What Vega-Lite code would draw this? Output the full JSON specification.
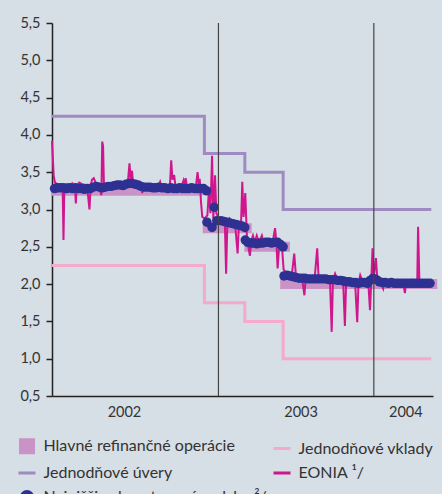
{
  "$schema": "https://vega.github.io/schema/vega-lite/v6.json",
  "width": 381,
  "height": 373,
  "autosize": {"type": "none"},
  "padding": {"left": 52, "top": 23, "right": 9, "bottom": 98},
  "background": "#d6dee6",
  "config": {
    "view": {"stroke": null},
    "font": "Lato",
    "axis": {"labelFont": "Lato", "labelFontSize": 14.5, "labelColor": "#333333", "domain": true, "domainColor": "#222222", "domainWidth": 1.5, "tickColor": "#222222", "tickWidth": 1.5, "grid": false},
    "legend": {"labelFont": "Lato", "labelFontSize": 16, "labelColor": "#333333", "labelLimit": 0, "columnPadding": 0, "rowPadding": 4, "padding": 0, "labelOffset": 6.5}
  },
  "datasets": {
    "refi": [
      {"d": "2001-12-05", "e": "2002-11-25", "v": 3.25},
      {"d": "2002-11-25", "e": "2003-03-20", "v": 2.75},
      {"d": "2003-03-03", "e": "2003-06-18", "v": 2.5},
      {"d": "2003-05-26", "e": "2004-05-29", "v": 2.0}
    ],
    "deposit": [
      {"d": "2001-12-06", "v": 2.25},
      {"d": "2002-11-29", "v": 1.75},
      {"d": "2003-03-04", "v": 1.5},
      {"d": "2003-06-02", "v": 1.0},
      {"d": "2004-05-15", "v": 1.0}
    ],
    "lending": [
      {"d": "2001-12-06", "v": 4.25},
      {"d": "2002-11-29", "v": 3.75},
      {"d": "2003-03-04", "v": 3.5},
      {"d": "2003-06-02", "v": 3.0},
      {"d": "2004-05-15", "v": 3.0}
    ],
    "eonia": [
      {"d": "2001-12-06", "v": 3.92}, {"d": "2001-12-10", "v": 3.45}, {"d": "2001-12-13", "v": 3.36},
      {"d": "2001-12-18", "v": 3.34}, {"d": "2001-12-24", "v": 3.31}, {"d": "2001-12-31", "v": 3.30},
      {"d": "2002-01-02", "v": 2.59}, {"d": "2002-01-04", "v": 3.30}, {"d": "2002-01-09", "v": 3.34},
      {"d": "2002-01-16", "v": 3.33}, {"d": "2002-01-23", "v": 3.35}, {"d": "2002-01-29", "v": 3.30},
      {"d": "2002-01-31", "v": 3.08}, {"d": "2002-02-02", "v": 3.31}, {"d": "2002-02-08", "v": 3.36},
      {"d": "2002-02-15", "v": 3.34}, {"d": "2002-02-22", "v": 3.33}, {"d": "2002-02-27", "v": 3.28},
      {"d": "2002-03-04", "v": 3.00}, {"d": "2002-03-07", "v": 3.32}, {"d": "2002-03-10", "v": 3.40},
      {"d": "2002-03-14", "v": 3.42}, {"d": "2002-03-20", "v": 3.34}, {"d": "2002-03-27", "v": 3.30},
      {"d": "2002-04-01", "v": 3.19}, {"d": "2002-04-03", "v": 3.91}, {"d": "2002-04-05", "v": 3.85},
      {"d": "2002-04-07", "v": 3.33}, {"d": "2002-04-14", "v": 3.31}, {"d": "2002-04-21", "v": 3.33},
      {"d": "2002-04-28", "v": 3.32}, {"d": "2002-05-05", "v": 3.34}, {"d": "2002-05-12", "v": 3.33},
      {"d": "2002-05-19", "v": 3.34}, {"d": "2002-05-26", "v": 3.33}, {"d": "2002-06-02", "v": 3.35},
      {"d": "2002-06-06", "v": 3.62}, {"d": "2002-06-09", "v": 3.38}, {"d": "2002-06-12", "v": 3.52},
      {"d": "2002-06-14", "v": 3.37}, {"d": "2002-06-21", "v": 3.35}, {"d": "2002-06-28", "v": 3.34},
      {"d": "2002-07-03", "v": 3.33}, {"d": "2002-07-06", "v": 3.22}, {"d": "2002-07-09", "v": 3.32},
      {"d": "2002-07-16", "v": 3.31}, {"d": "2002-07-23", "v": 3.32}, {"d": "2002-07-30", "v": 3.31},
      {"d": "2002-08-06", "v": 3.32}, {"d": "2002-08-13", "v": 3.31}, {"d": "2002-08-17", "v": 3.37},
      {"d": "2002-08-20", "v": 3.31}, {"d": "2002-08-27", "v": 3.30}, {"d": "2002-09-03", "v": 3.32},
      {"d": "2002-09-09", "v": 3.31}, {"d": "2002-09-12", "v": 3.66}, {"d": "2002-09-15", "v": 3.40},
      {"d": "2002-09-19", "v": 3.46}, {"d": "2002-09-22", "v": 3.31}, {"d": "2002-09-29", "v": 3.30},
      {"d": "2002-10-06", "v": 3.31}, {"d": "2002-10-11", "v": 3.39}, {"d": "2002-10-14", "v": 3.31},
      {"d": "2002-10-16", "v": 3.42}, {"d": "2002-10-19", "v": 3.30}, {"d": "2002-10-26", "v": 3.31},
      {"d": "2002-11-02", "v": 3.30}, {"d": "2002-11-09", "v": 3.31}, {"d": "2002-11-13", "v": 3.50},
      {"d": "2002-11-16", "v": 3.32}, {"d": "2002-11-18", "v": 3.41}, {"d": "2002-11-21", "v": 3.10},
      {"d": "2002-11-24", "v": 2.90}, {"d": "2002-11-30", "v": 2.88}, {"d": "2002-12-06", "v": 2.92},
      {"d": "2002-12-10", "v": 3.30}, {"d": "2002-12-13", "v": 2.95}, {"d": "2002-12-17", "v": 3.72},
      {"d": "2002-12-20", "v": 2.88}, {"d": "2002-12-24", "v": 3.46}, {"d": "2002-12-27", "v": 2.95},
      {"d": "2003-01-02", "v": 2.88}, {"d": "2003-01-09", "v": 2.85}, {"d": "2003-01-16", "v": 2.83},
      {"d": "2003-01-19", "v": 2.14}, {"d": "2003-01-22", "v": 2.84}, {"d": "2003-01-27", "v": 2.88},
      {"d": "2003-02-02", "v": 2.82}, {"d": "2003-02-09", "v": 2.81}, {"d": "2003-02-15", "v": 2.41},
      {"d": "2003-02-18", "v": 2.80}, {"d": "2003-02-23", "v": 2.80}, {"d": "2003-02-26", "v": 3.37},
      {"d": "2003-03-01", "v": 2.90}, {"d": "2003-03-05", "v": 3.22}, {"d": "2003-03-09", "v": 2.60},
      {"d": "2003-03-16", "v": 2.38}, {"d": "2003-03-19", "v": 2.58}, {"d": "2003-03-23", "v": 2.65},
      {"d": "2003-03-27", "v": 2.56}, {"d": "2003-04-01", "v": 2.65}, {"d": "2003-04-06", "v": 2.56},
      {"d": "2003-04-13", "v": 2.65}, {"d": "2003-04-17", "v": 2.56}, {"d": "2003-04-24", "v": 2.55},
      {"d": "2003-05-01", "v": 2.56}, {"d": "2003-05-08", "v": 2.55}, {"d": "2003-05-14", "v": 2.75},
      {"d": "2003-05-17", "v": 2.56}, {"d": "2003-05-20", "v": 2.21}, {"d": "2003-05-24", "v": 2.55},
      {"d": "2003-05-30", "v": 2.52}, {"d": "2003-06-03", "v": 2.20}, {"d": "2003-06-08", "v": 2.15},
      {"d": "2003-06-15", "v": 2.12}, {"d": "2003-06-22", "v": 2.10}, {"d": "2003-06-28", "v": 2.41},
      {"d": "2003-07-02", "v": 2.11}, {"d": "2003-07-09", "v": 2.10}, {"d": "2003-07-16", "v": 2.09},
      {"d": "2003-07-22", "v": 1.85}, {"d": "2003-07-25", "v": 2.09}, {"d": "2003-08-01", "v": 2.10},
      {"d": "2003-08-08", "v": 2.09}, {"d": "2003-08-15", "v": 2.08}, {"d": "2003-08-21", "v": 2.48},
      {"d": "2003-08-24", "v": 2.12}, {"d": "2003-08-31", "v": 2.08}, {"d": "2003-09-07", "v": 2.07},
      {"d": "2003-09-14", "v": 2.06}, {"d": "2003-09-20", "v": 2.05}, {"d": "2003-09-24", "v": 1.36},
      {"d": "2003-09-27", "v": 2.06}, {"d": "2003-10-02", "v": 2.14}, {"d": "2003-10-08", "v": 2.05},
      {"d": "2003-10-15", "v": 2.04}, {"d": "2003-10-21", "v": 2.03}, {"d": "2003-10-25", "v": 1.44},
      {"d": "2003-10-28", "v": 2.04}, {"d": "2003-11-04", "v": 2.02}, {"d": "2003-11-11", "v": 2.03},
      {"d": "2003-11-18", "v": 2.02}, {"d": "2003-11-23", "v": 1.49}, {"d": "2003-11-26", "v": 2.02},
      {"d": "2003-11-30", "v": 2.12}, {"d": "2003-12-06", "v": 2.03}, {"d": "2003-12-13", "v": 2.04},
      {"d": "2003-12-19", "v": 2.02}, {"d": "2003-12-23", "v": 1.65}, {"d": "2003-12-26", "v": 2.05},
      {"d": "2003-12-29", "v": 2.48}, {"d": "2004-01-01", "v": 2.10}, {"d": "2004-01-06", "v": 2.35},
      {"d": "2004-01-09", "v": 2.08}, {"d": "2004-01-16", "v": 2.05}, {"d": "2004-01-23", "v": 1.94},
      {"d": "2004-01-27", "v": 2.05}, {"d": "2004-02-03", "v": 2.04}, {"d": "2004-02-10", "v": 2.06},
      {"d": "2004-02-17", "v": 2.03}, {"d": "2004-02-24", "v": 2.04}, {"d": "2004-03-02", "v": 2.03},
      {"d": "2004-03-09", "v": 2.05}, {"d": "2004-03-14", "v": 1.88}, {"d": "2004-03-17", "v": 2.03},
      {"d": "2004-03-24", "v": 2.04}, {"d": "2004-03-31", "v": 2.06}, {"d": "2004-04-07", "v": 2.03},
      {"d": "2004-04-12", "v": 2.04}, {"d": "2004-04-14", "v": 2.77}, {"d": "2004-04-17", "v": 2.05},
      {"d": "2004-04-24", "v": 2.03}, {"d": "2004-05-01", "v": 2.05}, {"d": "2004-05-08", "v": 2.04},
      {"d": "2004-05-16", "v": 2.06}
    ],
    "dots": [
      {"d": "2001-12-12", "v": 3.28}, {"d": "2001-12-19", "v": 3.29}, {"d": "2001-12-26", "v": 3.29},
      {"d": "2002-01-02", "v": 3.29}, {"d": "2002-01-09", "v": 3.28}, {"d": "2002-01-16", "v": 3.29},
      {"d": "2002-01-23", "v": 3.28}, {"d": "2002-01-30", "v": 3.29}, {"d": "2002-02-06", "v": 3.28},
      {"d": "2002-02-13", "v": 3.28}, {"d": "2002-02-20", "v": 3.27}, {"d": "2002-02-27", "v": 3.28},
      {"d": "2002-03-06", "v": 3.28}, {"d": "2002-03-13", "v": 3.30}, {"d": "2002-03-20", "v": 3.31},
      {"d": "2002-03-27", "v": 3.30}, {"d": "2002-04-03", "v": 3.29}, {"d": "2002-04-10", "v": 3.30},
      {"d": "2002-04-17", "v": 3.31}, {"d": "2002-04-24", "v": 3.31}, {"d": "2002-05-01", "v": 3.32},
      {"d": "2002-05-08", "v": 3.33}, {"d": "2002-05-15", "v": 3.33}, {"d": "2002-05-22", "v": 3.32},
      {"d": "2002-05-29", "v": 3.34}, {"d": "2002-06-05", "v": 3.35}, {"d": "2002-06-12", "v": 3.35},
      {"d": "2002-06-19", "v": 3.34}, {"d": "2002-06-26", "v": 3.33}, {"d": "2002-07-03", "v": 3.31},
      {"d": "2002-07-10", "v": 3.30}, {"d": "2002-07-17", "v": 3.30}, {"d": "2002-07-24", "v": 3.30},
      {"d": "2002-07-31", "v": 3.29}, {"d": "2002-08-07", "v": 3.29}, {"d": "2002-08-14", "v": 3.30},
      {"d": "2002-08-21", "v": 3.29}, {"d": "2002-08-28", "v": 3.29}, {"d": "2002-09-04", "v": 3.28},
      {"d": "2002-09-11", "v": 3.29}, {"d": "2002-09-18", "v": 3.28}, {"d": "2002-09-25", "v": 3.28},
      {"d": "2002-10-02", "v": 3.29}, {"d": "2002-10-09", "v": 3.28}, {"d": "2002-10-16", "v": 3.28},
      {"d": "2002-10-23", "v": 3.28}, {"d": "2002-10-30", "v": 3.29}, {"d": "2002-11-06", "v": 3.28},
      {"d": "2002-11-13", "v": 3.28}, {"d": "2002-11-20", "v": 3.28}, {"d": "2002-11-27", "v": 3.28},
      {"d": "2002-12-04", "v": 3.25}, {"d": "2002-12-05", "v": 2.83}, {"d": "2002-12-17", "v": 2.76},
      {"d": "2002-12-22", "v": 3.03}, {"d": "2002-12-28", "v": 2.85}, {"d": "2003-01-07", "v": 2.85},
      {"d": "2003-01-14", "v": 2.84}, {"d": "2003-01-21", "v": 2.83}, {"d": "2003-01-28", "v": 2.82},
      {"d": "2003-02-04", "v": 2.81}, {"d": "2003-02-11", "v": 2.80}, {"d": "2003-02-18", "v": 2.79},
      {"d": "2003-02-25", "v": 2.78}, {"d": "2003-03-04", "v": 2.76}, {"d": "2003-03-05", "v": 2.59},
      {"d": "2003-03-11", "v": 2.56}, {"d": "2003-03-18", "v": 2.55}, {"d": "2003-03-25", "v": 2.55},
      {"d": "2003-04-01", "v": 2.54}, {"d": "2003-04-08", "v": 2.55}, {"d": "2003-04-15", "v": 2.55},
      {"d": "2003-04-22", "v": 2.56}, {"d": "2003-04-29", "v": 2.56}, {"d": "2003-05-06", "v": 2.55},
      {"d": "2003-05-13", "v": 2.56}, {"d": "2003-05-20", "v": 2.56}, {"d": "2003-05-27", "v": 2.53},
      {"d": "2003-06-02", "v": 2.50}, {"d": "2003-06-04", "v": 2.11}, {"d": "2003-06-11", "v": 2.12},
      {"d": "2003-06-18", "v": 2.11}, {"d": "2003-06-25", "v": 2.10}, {"d": "2003-07-02", "v": 2.09},
      {"d": "2003-07-09", "v": 2.08}, {"d": "2003-07-16", "v": 2.08}, {"d": "2003-07-23", "v": 2.08},
      {"d": "2003-07-30", "v": 2.07}, {"d": "2003-08-06", "v": 2.07}, {"d": "2003-08-13", "v": 2.07},
      {"d": "2003-08-20", "v": 2.07}, {"d": "2003-08-27", "v": 2.07}, {"d": "2003-09-03", "v": 2.07},
      {"d": "2003-09-10", "v": 2.07}, {"d": "2003-09-17", "v": 2.06}, {"d": "2003-09-24", "v": 2.06},
      {"d": "2003-10-01", "v": 2.06}, {"d": "2003-10-08", "v": 2.05}, {"d": "2003-10-15", "v": 2.05},
      {"d": "2003-10-22", "v": 2.04}, {"d": "2003-10-29", "v": 2.03}, {"d": "2003-11-05", "v": 2.03},
      {"d": "2003-11-12", "v": 2.02}, {"d": "2003-11-19", "v": 2.02}, {"d": "2003-11-26", "v": 2.01},
      {"d": "2003-12-03", "v": 2.02}, {"d": "2003-12-10", "v": 2.02}, {"d": "2003-12-17", "v": 2.01},
      {"d": "2003-12-23", "v": 2.05}, {"d": "2003-12-30", "v": 2.08}, {"d": "2004-01-07", "v": 2.06},
      {"d": "2004-01-14", "v": 2.03}, {"d": "2004-01-21", "v": 2.02}, {"d": "2004-01-28", "v": 2.02},
      {"d": "2004-02-04", "v": 2.01}, {"d": "2004-02-11", "v": 2.02}, {"d": "2004-02-18", "v": 2.01},
      {"d": "2004-02-25", "v": 2.01}, {"d": "2004-03-03", "v": 2.01}, {"d": "2004-03-10", "v": 2.01},
      {"d": "2004-03-17", "v": 2.01}, {"d": "2004-03-24", "v": 2.01}, {"d": "2004-03-31", "v": 2.01},
      {"d": "2004-04-07", "v": 2.01}, {"d": "2004-04-14", "v": 2.01}, {"d": "2004-04-21", "v": 2.01},
      {"d": "2004-04-28", "v": 2.01}, {"d": "2004-05-05", "v": 2.01}, {"d": "2004-05-12", "v": 2.01}
    ],
    "years": [{"d": "2003-01-01"}, {"d": "2004-01-01"}]
  },
  "encoding": {
    "x": {
      "field": "d", "type": "temporal",
      "scale": {"type": "utc", "domain": [{"year": 2001, "month": 12, "date": 6, "utc": true}, {"year": 2004, "month": 5, "date": 19, "utc": true}]},
      "axis": {
        "title": null, "ticks": false, "domain": true, "labelPadding": 9,
        "values": [{"year": 2002, "month": 5, "date": 24, "utc": true}, {"year": 2003, "month": 7, "date": 13, "utc": true}, {"year": 2004, "month": 3, "date": 15, "utc": true}],
        "labelExpr": "utcFormat(datum.value, '%Y')"
      }
    }
  },
  "layer": [
    {
      "data": {"name": "refi"},
      "mark": {"type": "rule", "strokeWidth": 10, "strokeCap": "butt"},
      "encoding": {
        "x2": {"field": "e"},
        "y": {
          "field": "v", "type": "quantitative",
          "scale": {"domain": [0.5, 5.5], "nice": false, "zero": false},
          "axis": {"title": null, "tickSize": 6, "labelPadding": 6, "domain": true, "values": [0.5, 1, 1.5, 2, 2.5, 3, 3.5, 4, 4.5, 5, 5.5], "labelExpr": "replace(format(datum.value, '.1f'), '.', ',')"}
        },
        "color": {
          "datum": "Hlavné refinančné operácie", "type": "nominal",
          "scale": {
            "domain": ["Hlavné refinančné operácie", "Jednodňové úvery", "Najnižšia akceptovaná sadzba ²/", "Jednodňové vklady", "EONIA ¹/"],
            "range": ["#c994c5", "#9f8bc2", "#2e3192", "#f5a9cc", "#cf168c"]
          },
          "legend": {
            "title": null, "orient": "none", "legendX": -35, "legendY": 413,
            "columns": 2, "columnPadding": 0, "rowPadding": 4, "padding": 0,
            "symbolSize": 289, "symbolStrokeWidth": 3, "labelOffset": 6.5,
            "labelFont": "Lato", "labelFontSize": 16, "labelColor": "#333333", "labelLimit": 0,
            "encode": {
              "labels": {"update": {"fontSize": {"value": 16}}},
              "symbols": {
                "update": {
                  "shape": {"signal": "datum.index == 0 ? 'square' : (datum.index == 2 ? 'circle' : 'stroke')"},
                  "size": {"signal": "datum.index == 0 ? 169 : (datum.index == 2 ? 121 : 289)"},
                  "fill": {"signal": "(datum.index == 0 || datum.index == 2) ? scale('color', datum.value) : 'transparent'"},
                  "stroke": {"signal": "(datum.index == 0 || datum.index == 2) ? 'transparent' : scale('color', datum.value)"},
                  "strokeWidth": {"value": 3},
                  "opacity": {"value": 1}
                }
              }
            }
          }
        }
      }
    },
    {
      "data": {"name": "deposit"},
      "mark": {"type": "line", "interpolate": "step-after", "strokeWidth": 3},
      "encoding": {
        "y": {
          "field": "v", "type": "quantitative",
          "scale": {"domain": [0.5, 5.5], "nice": false, "zero": false},
          "axis": {"title": null, "tickSize": 6, "labelPadding": 6, "domain": true, "values": [0.5, 1, 1.5, 2, 2.5, 3, 3.5, 4, 4.5, 5, 5.5], "labelExpr": "replace(format(datum.value, '.1f'), '.', ',')"}
        },
        "color": {"datum": "Jednodňové vklady", "type": "nominal"}
      }
    },
    {
      "data": {"name": "lending"},
      "mark": {"type": "line", "interpolate": "step-after", "strokeWidth": 3},
      "encoding": {
        "y": {
          "field": "v", "type": "quantitative",
          "scale": {"domain": [0.5, 5.5], "nice": false, "zero": false},
          "axis": {"title": null, "tickSize": 6, "labelPadding": 6, "domain": true, "values": [0.5, 1, 1.5, 2, 2.5, 3, 3.5, 4, 4.5, 5, 5.5], "labelExpr": "replace(format(datum.value, '.1f'), '.', ',')"}
        },
        "color": {"datum": "Jednodňové úvery", "type": "nominal"}
      }
    },
    {
      "data": {"name": "eonia"},
      "mark": {"type": "line", "strokeWidth": 2},
      "encoding": {
        "y": {
          "field": "v", "type": "quantitative",
          "scale": {"domain": [0.5, 5.5], "nice": false, "zero": false},
          "axis": {"title": null, "tickSize": 6, "labelPadding": 6, "domain": true, "values": [0.5, 1, 1.5, 2, 2.5, 3, 3.5, 4, 4.5, 5, 5.5], "labelExpr": "replace(format(datum.value, '.1f'), '.', ',')"}
        },
        "color": {"datum": "EONIA ¹/", "type": "nominal"}
      }
    },
    {
      "data": {"name": "dots"},
      "mark": {"type": "point", "filled": true, "size": 90, "opacity": 1},
      "encoding": {
        "y": {
          "field": "v", "type": "quantitative",
          "scale": {"domain": [0.5, 5.5], "nice": false, "zero": false},
          "axis": {"title": null, "tickSize": 6, "labelPadding": 6, "domain": true, "values": [0.5, 1, 1.5, 2, 2.5, 3, 3.5, 4, 4.5, 5, 5.5], "labelExpr": "replace(format(datum.value, '.1f'), '.', ',')"}
        },
        "color": {"datum": "Najnižšia akceptovaná sadzba ²/", "type": "nominal"}
      }
    },
    {
      "data": {"name": "years"},
      "mark": {"type": "rule", "color": "#444444", "strokeWidth": 1.2},
      "encoding": {}
    }
  ]
}
